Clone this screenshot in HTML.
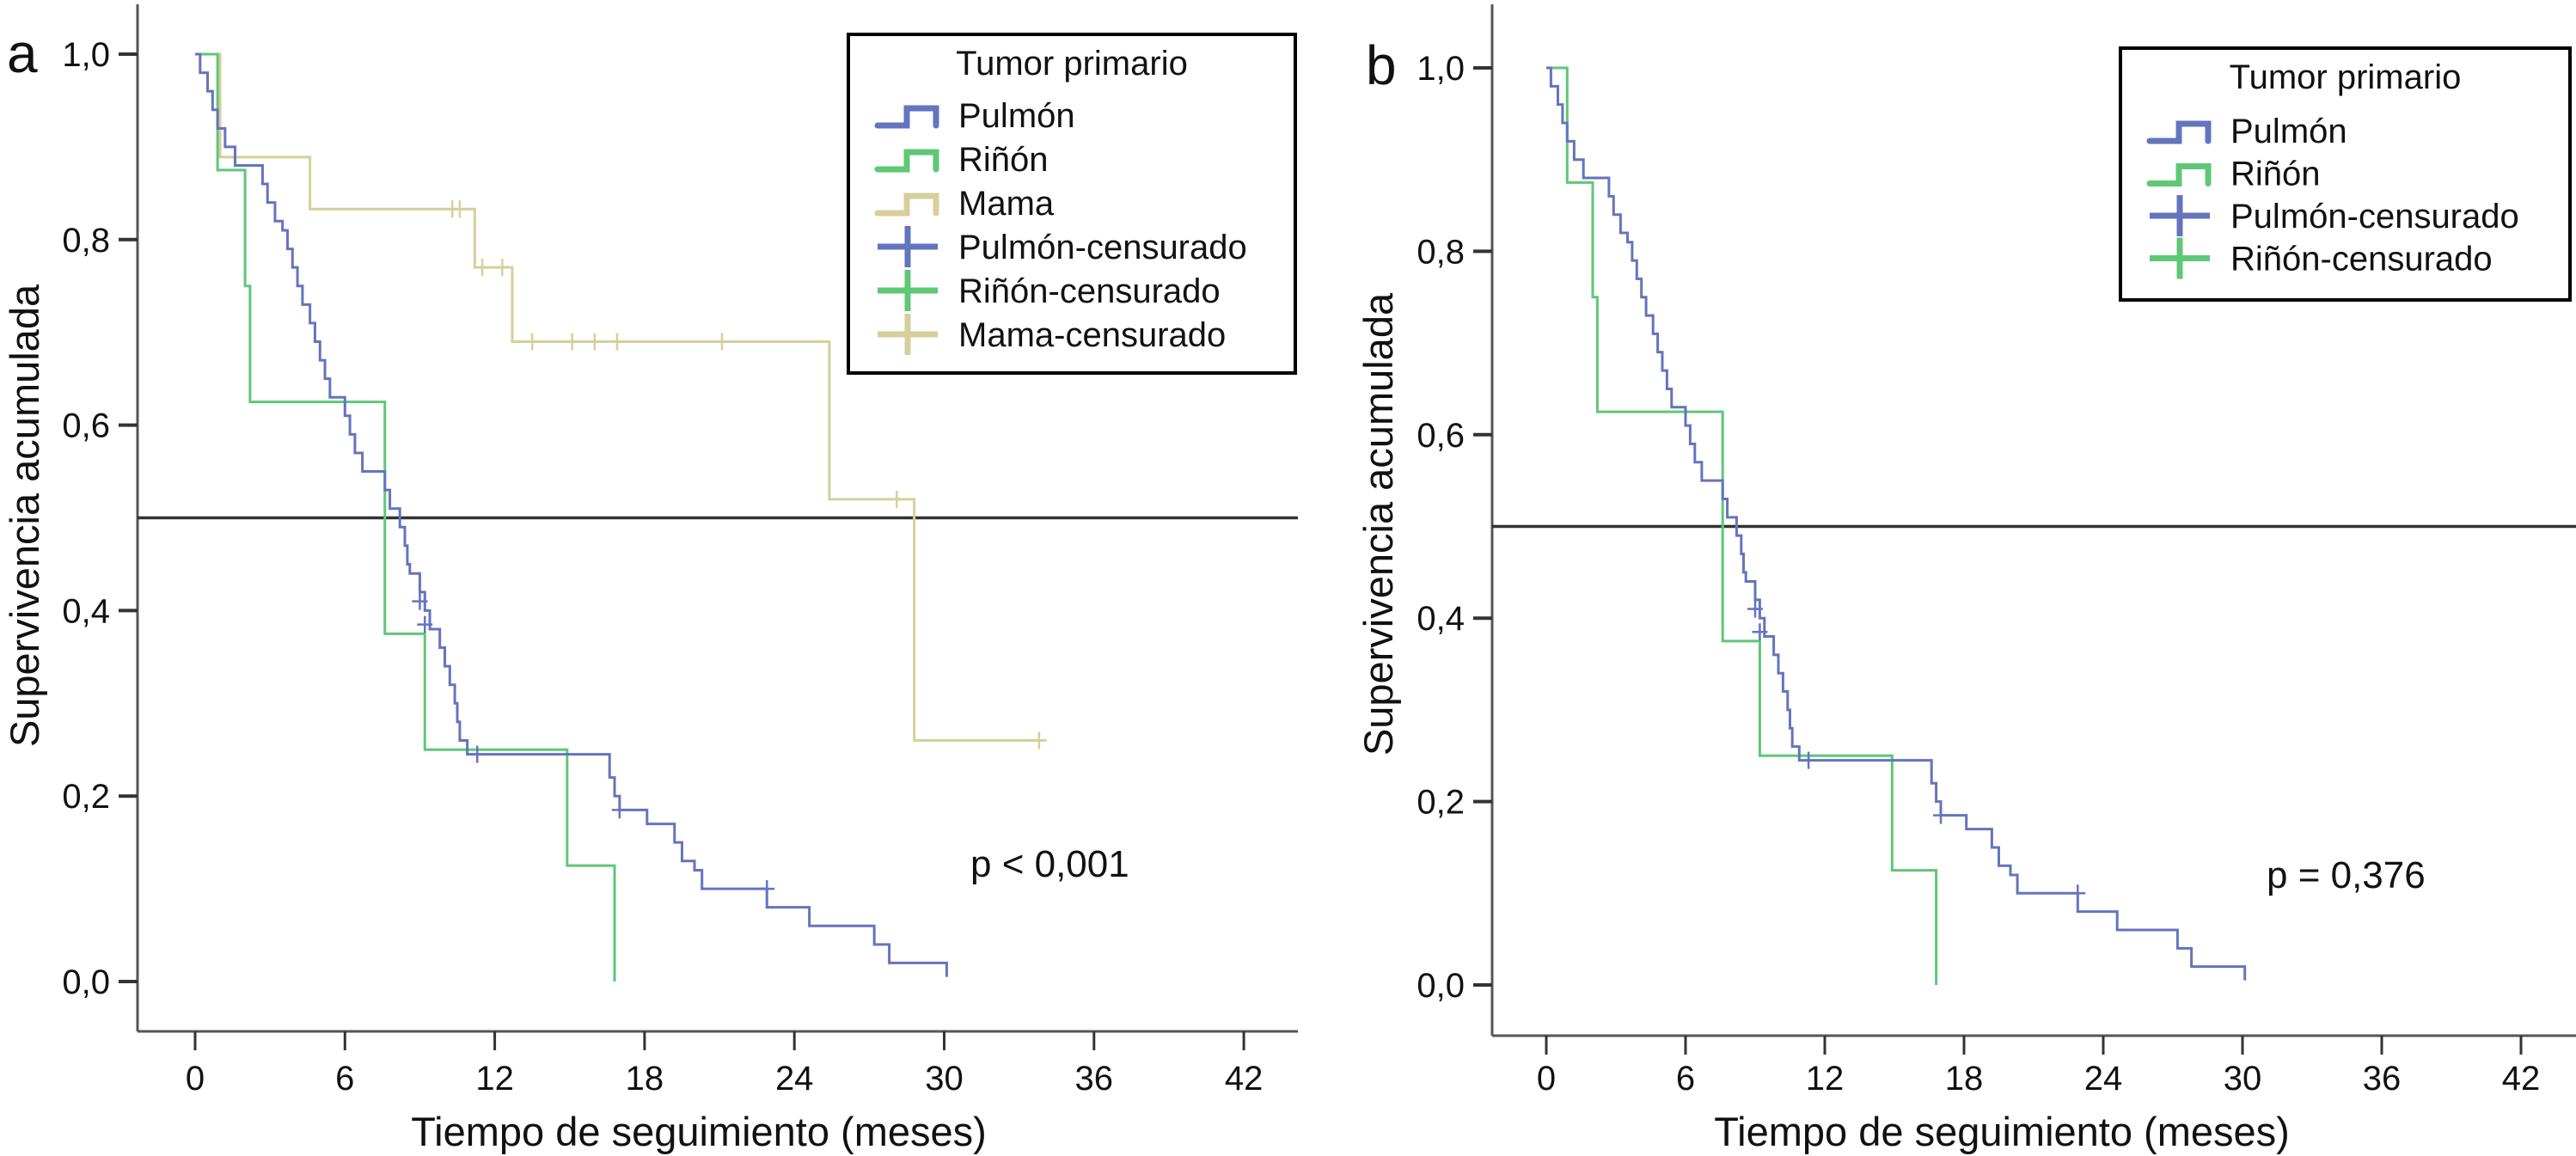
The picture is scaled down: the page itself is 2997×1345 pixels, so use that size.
<!DOCTYPE html>
<html><head><meta charset="utf-8"><style>
html,body{margin:0;padding:0;background:#fff}
svg{display:block}
text{font-family:"Liberation Sans",sans-serif;fill:#111}
</style></head><body>
<svg id="chart" width="2997" height="1345" viewBox="0 0 2997 1345" xmlns="http://www.w3.org/2000/svg"></svg>
<script>
// Kaplan-Meier step data: times (months) and survival after each step
const pulmonTimes = [0,0.2,0.5,0.7,0.9,1.2,1.6,2.7,2.9,3.2,3.5,3.7,3.9,4.1,4.3,4.6,4.8,5.0,5.2,5.4,6.0,6.2,6.4,6.7,7.6,7.8,8.2,8.4,8.5,8.6,9.0,9.2,9.4,9.8,10.0,10.2,10.4,10.5,10.6,10.9,16.6,16.8,17.0,18.1,19.2,19.5,20.0,20.3,22.9,24.6,27.2,27.8,30.1];
const pulmonSurv  = [1.0,0.98,0.96,0.94,0.92,0.90,0.88,0.86,0.84,0.82,0.81,0.79,0.77,0.75,0.73,0.71,0.69,0.67,0.65,0.63,0.61,0.59,0.57,0.55,0.53,0.51,0.49,0.47,0.45,0.44,0.42,0.40,0.38,0.36,0.34,0.32,0.30,0.28,0.26,0.245,0.22,0.20,0.185,0.17,0.15,0.13,0.12,0.10,0.08,0.06,0.04,0.02,0.005];
const pulmonCensT = [9.0,9.2,11.3,17.0,22.9];
const pulmonCensS = [0.41,0.385,0.245,0.185,0.10];
const rinonTimes = [0,0.9,2.0,2.2,7.6,9.2,14.9,16.8];
const rinonSurv  = [1.0,0.875,0.75,0.625,0.375,0.25,0.125,0.0];
const mamaTimes = [0,1.0,4.6,11.2,12.7,25.4,28.8];
const mamaSurv  = [1.0,0.889,0.833,0.77,0.69,0.52,0.26];
const mamaEnd = 34.0;
const mamaCensT = [10.3,10.6,11.5,12.3,13.5,15.1,16.0,16.9,21.1,28.1,33.8];
const mamaCensS = [0.833,0.833,0.77,0.77,0.69,0.69,0.69,0.69,0.69,0.52,0.26];
const xTicks = [0,6,12,18,24,30,36,42];
const yTicks = [0,0.2,0.4,0.6,0.8,1.0];
const yTickLabels = ["0,0","0,2","0,4","0,6","0,8","1,0"];

const NS="http://www.w3.org/2000/svg";
const svg=document.getElementById('chart');
function mk(tag,attrs,parent){const e=document.createElementNS(NS,tag);for(const k in attrs)e.setAttribute(k,attrs[k]);(parent||svg).appendChild(e);return e;}
const BLUE="#6474bd",GREEN="#5fc777",MAMA="#d6cf9c";

function panel(cfg){
  const g=mk('g',{});
  
  
  const X=t=>cfg.x0+t*cfg.xs, Y=s=>cfg.y0-s*cfg.ys;
  // axes
  const ya=mk('line',{x1:cfg.ax,y1:cfg.axTop,x2:cfg.ax,y2:cfg.axY,stroke:'#555','stroke-width':3},g);
  
  const xa=mk('line',{x1:cfg.ax,y1:cfg.axY,x2:cfg.axRight,y2:cfg.axY,stroke:'#555','stroke-width':3},g);
  
  xTicks.forEach(t=>{
    const l=mk('line',{x1:X(t),y1:cfg.axY,x2:X(t),y2:cfg.axY+22,stroke:'#333','stroke-width':3},g);
    
    const tx=mk('text',{x:X(t),y:1268,'font-size':40,'text-anchor':'middle'},g);tx.textContent=t;
    
  });
  yTicks.forEach((v,i)=>{
    const l=mk('line',{x1:cfg.ax-22,y1:Y(v),x2:cfg.ax,y2:Y(v),stroke:'#333','stroke-width':4},g);
    
    const tx=mk('text',{x:cfg.ax-32,y:Y(v)+14,'font-size':40,'text-anchor':'end'},g);tx.textContent=yTickLabels[i];
    
  });
  // ref line 0.5
  const rl=mk('line',{x1:cfg.ax,y1:Y(0.5),x2:cfg.axRight,y2:Y(0.5),stroke:'#333','stroke-width':3.5},g);
  
  function step(times,surv,end,color,name){
    let d=`M${X(times[0])},${Y(surv[0])}`;
    for(let i=1;i<times.length;i++){d+=` H${X(times[i])} V${Y(surv[i])}`;}
    if(end!=null)d+=` H${X(end)}`;
    const p=mk('path',{d:d,fill:'none',stroke:color,'stroke-width':3},g);
    
  }
  function cens(ts,ss,color,name){
    ts.forEach((t,i)=>{
      const p=mk('path',{d:`M${X(t)-9},${Y(ss[i])} H${X(t)+9} M${X(t)},${Y(ss[i])-10} V${Y(ss[i])+10}`,stroke:color,'stroke-width':2.5,fill:'none'},g);
      
    });
  }
  if(cfg.mama){step(mamaTimes,mamaSurv,mamaEnd,MAMA,'mama-curve');cens(mamaCensT,mamaCensS,MAMA,'mama-censor-mark');}
  step(rinonTimes,rinonSurv,null,GREEN,'rinon-curve');
  step(pulmonTimes,pulmonSurv,null,BLUE,'pulmon-curve');
  cens(pulmonCensT,pulmonCensS,BLUE,'pulmon-censor-mark');
  // labels
  const lt=mk('text',{x:cfg.letterX,y:cfg.letterY,'font-size':64},g);lt.textContent=cfg.letter;
  
  const yt=mk('text',{x:0,y:0,'font-size':47,'text-anchor':'middle',transform:`translate(${cfg.ytX},${cfg.ytY}) rotate(-90)`},g);
  yt.textContent='Supervivencia acumulada';
  
  const xt=mk('text',{x:cfg.xtX,y:1333,'font-size':47,'text-anchor':'middle'},g);
  xt.textContent='Tiempo de seguimiento (meses)';
  
  const pv=mk('text',{x:cfg.pX,y:cfg.pY,'font-size':44},g);pv.textContent=cfg.p;
  
  // legend
  const L=cfg.leg;
  const lg=mk('g',{},g);
  
  mk('rect',{x:L.x,y:L.y,width:L.w,height:L.h,fill:'#fff',stroke:'#000','stroke-width':4},lg);
  const tt=mk('text',{x:L.x+L.w/2,y:L.titleY,'font-size':40,'text-anchor':'middle'},lg);tt.textContent='Tumor primario';
  
  cfg.entries.forEach((e,i)=>{
    const by=L.firstY+i*L.dy, sx=L.x+34;
    const eg=mk('g',{},lg);
    
    if(e.kind==='step'){
      mk('path',{d:`M${sx},${by} H${sx+34} V${by-20} H${sx+68} V${by}`,fill:'none',stroke:e.color,'stroke-width':7,'stroke-linecap':'round'},eg);
    }else{
      mk('path',{d:`M${sx},${by-12} H${sx+70} M${sx+35},${by-36} V${by+12}`,fill:'none',stroke:e.color,'stroke-width':7},eg);
    }
    const t=mk('text',{x:L.x+L.textOff,y:by+2,'font-size':40},eg);t.textContent=e.label;
  });
}

panel({name:'panel-a',x0:227,xs:29.05,y0:1142,ys:1079,ax:160,axTop:5,axY:1200,axRight:1510,
  mama:true,letter:'a',letterX:8,letterY:84,ytX:45,ytY:600,xtX:813,pX:1129,pY:1020,p:'p < 0,001',
  leg:{x:987,y:40,w:520,h:394,titleY:87,firstY:146,dy:51,textOff:128},
  entries:[{kind:'step',color:BLUE,label:'Pulmón'},{kind:'step',color:GREEN,label:'Riñón'},{kind:'step',color:MAMA,label:'Mama'},
           {kind:'cross',color:BLUE,label:'Pulmón-censurado'},{kind:'cross',color:GREEN,label:'Riñón-censurado'},{kind:'cross',color:MAMA,label:'Mama-censurado'}]});
panel({name:'panel-b',x0:1799,xs:27.0,y0:1146,ys:1067,ax:1736,axTop:5,axY:1205,axRight:2997,
  mama:false,letter:'b',letterX:1589,letterY:98,ytX:1620,ytY:610,xtX:2329,pX:2637,pY:1033,p:'p = 0,376',
  leg:{x:2467,y:56,w:523,h:293,titleY:103,firstY:164,dy:49.5,textOff:128},
  entries:[{kind:'step',color:BLUE,label:'Pulmón'},{kind:'step',color:GREEN,label:'Riñón'},
           {kind:'cross',color:BLUE,label:'Pulmón-censurado'},{kind:'cross',color:GREEN,label:'Riñón-censurado'}]});
</script>
</body></html>
